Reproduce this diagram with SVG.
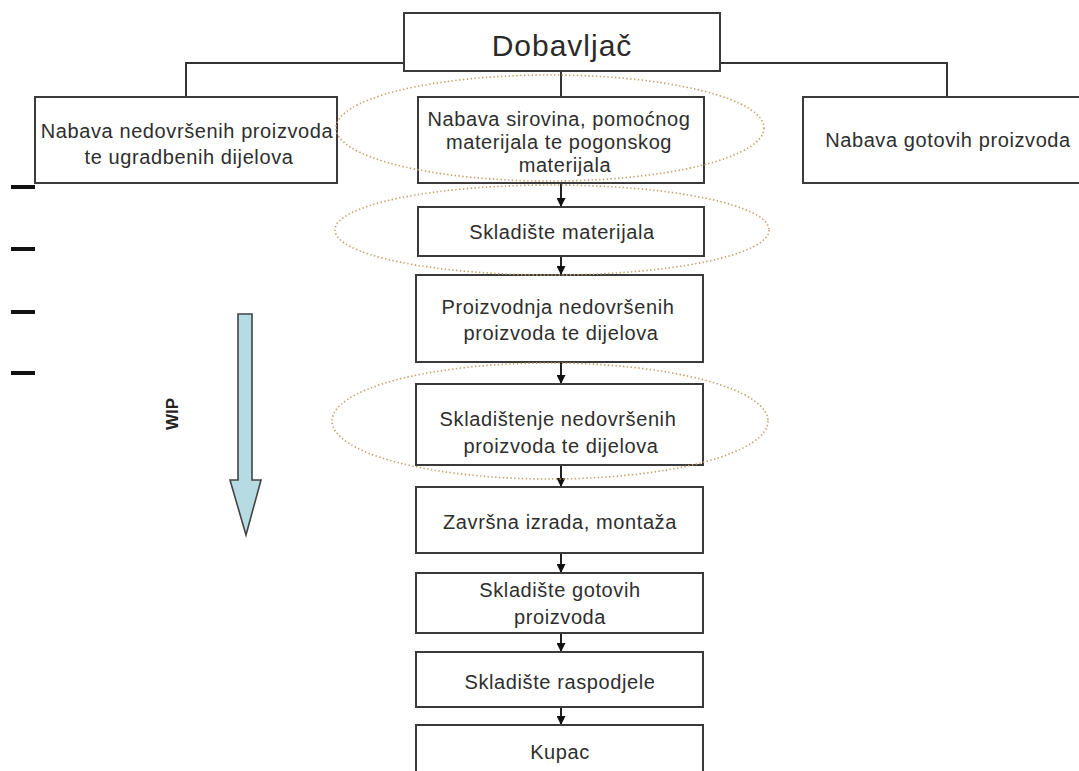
<svg xmlns="http://www.w3.org/2000/svg" width="1079" height="771" viewBox="0 0 1079 771">
  <style>
    .box { fill: #ffffff; stroke: #3a3a3a; stroke-width: 2; }
    .lbl { font-family: "Liberation Sans", Arial, sans-serif; font-size: 20px; fill: #2e2e2e; text-anchor: middle; letter-spacing: 0.6px; }
    .title { font-family: "Liberation Sans", Arial, sans-serif; font-size: 30px; fill: #2a2a2a; text-anchor: middle; letter-spacing: 1px; }
    .wire { fill: none; stroke: #333333; stroke-width: 2; }
    .flow { fill: none; stroke: #222222; stroke-width: 2; marker-end: url(#head); }
    .zone { fill: none; stroke: #c2a066; stroke-width: 1.6; stroke-dasharray: 1.4 2.4; }
    .tick { stroke: #111111; stroke-width: 4; }
  </style>
  <defs>
    <marker id="head" viewBox="0 0 10 10" refX="10" refY="5" markerWidth="4.5" markerHeight="4.5" orient="auto" markerUnits="strokeWidth">
      <path d="M0,0 L10,5 L0,10 Z" fill="#111111"/>
    </marker>
  </defs>

  <rect width="1079" height="771" fill="#ffffff"/>

  <!-- connectors -->
  <g id="connectors">
    <path class="wire" d="M186,97 V63 H947 V97"/>
    <path class="wire" d="M561,71 V97"/>
    <line class="flow" x1="561" y1="183" x2="561" y2="207"/>
    <line class="flow" x1="561" y1="256" x2="561" y2="275"/>
    <line class="flow" x1="561" y1="362" x2="561" y2="384"/>
    <line class="flow" x1="561" y1="465" x2="561" y2="487"/>
    <line class="flow" x1="561" y1="553" x2="561" y2="573"/>
    <line class="flow" x1="561" y1="633" x2="561" y2="652"/>
    <line class="flow" x1="561" y1="707" x2="561" y2="725"/>
  </g>

  <!-- supplier -->
  <g id="dobavljac">
    <rect class="box" x="404" y="13" width="316" height="58"/>
    <text class="title" x="562" y="56">Dobavljač</text>
  </g>

  <!-- procurement row -->
  <g id="nabava-nedovrsenih">
    <rect class="box" x="35" y="97" width="302" height="86"/>
    <text class="lbl" x="187" y="138">Nabava nedovršenih proizvoda</text>
    <text class="lbl" x="189" y="164">te ugradbenih dijelova</text>
  </g>
  <g id="nabava-sirovina">
    <rect class="box" x="418" y="97" width="286" height="86"/>
    <text class="lbl" x="559" y="126">Nabava sirovina, pomoćnog</text>
    <text class="lbl" x="559" y="149">materijala te pogonskog</text>
    <text class="lbl" x="565" y="172">materijala</text>
  </g>
  <g id="nabava-gotovih">
    <rect class="box" x="803" y="97" width="290" height="86"/>
    <text class="lbl" x="948" y="147">Nabava gotovih proizvoda</text>
  </g>

  <!-- main flow -->
  <g id="skladiste-materijala">
    <rect class="box" x="418" y="207" width="286" height="49"/>
    <text class="lbl" x="562" y="239">Skladište materijala</text>
  </g>
  <g id="proizvodnja">
    <rect class="box" x="416" y="275" width="287" height="87"/>
    <text class="lbl" x="558" y="314">Proizvodnja nedovršenih</text>
    <text class="lbl" x="561" y="340">proizvoda te dijelova</text>
  </g>
  <g id="skladistenje">
    <rect class="box" x="416" y="384" width="287" height="81"/>
    <text class="lbl" x="558" y="426">Skladištenje nedovršenih</text>
    <text class="lbl" x="561" y="453">proizvoda te dijelova</text>
  </g>
  <g id="zavrsna-izrada">
    <rect class="box" x="416" y="487" width="287" height="66"/>
    <text class="lbl" x="560" y="529">Završna izrada, montaža</text>
  </g>
  <g id="skladiste-gotovih">
    <rect class="box" x="416" y="573" width="287" height="60"/>
    <text class="lbl" x="560" y="597">Skladište gotovih</text>
    <text class="lbl" x="560" y="624">proizvoda</text>
  </g>
  <g id="skladiste-raspodjele">
    <rect class="box" x="416" y="652" width="287" height="55"/>
    <text class="lbl" x="560" y="689">Skladište raspodjele</text>
  </g>
  <g id="kupac">
    <rect class="box" x="416" y="725" width="287" height="60"/>
    <text class="lbl" x="560" y="759">Kupac</text>
  </g>

  <!-- dotted storage zones -->
  <g id="zones">
    <ellipse class="zone" cx="550" cy="128" rx="214" ry="53"/>
    <ellipse class="zone" cx="552" cy="230" rx="217" ry="45"/>
    <ellipse class="zone" cx="550" cy="421" rx="218" ry="58"/>
  </g>

  <!-- level ticks -->
  <g id="ticks">
    <line class="tick" x1="11" y1="187" x2="35" y2="187"/>
    <line class="tick" x1="11" y1="249" x2="35" y2="249"/>
    <line class="tick" x1="11" y1="312" x2="35" y2="312"/>
    <line class="tick" x1="11" y1="373" x2="35" y2="373"/>
  </g>

  <!-- work in progress arrow -->
  <g id="wip">
    <polygon points="238,314 252,314 252,480 261,480 246,535 230,480 238,480" fill="#b7dbe2" stroke="#444444" stroke-width="1.6" stroke-linejoin="miter"/>
    <text x="178" y="414" transform="rotate(-90 178 414)" font-family="Liberation Sans, Arial, sans-serif" font-size="17" font-weight="bold" fill="#222222" text-anchor="middle">WIP</text>
  </g>
</svg>
